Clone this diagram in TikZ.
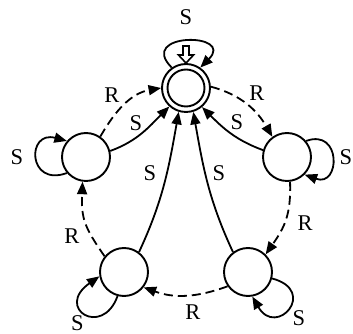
\documentclass[tikz,border=0pt]{standalone}
\usepackage{fontspec}
\setmainfont{Liberation Serif}
\usetikzlibrary{arrows.meta}
\begin{document}
\begin{tikzpicture}[x=1pt,y=1pt,
  st/.style={circle,draw,line width=1.9pt,minimum size=48pt,inner sep=0pt},
  lab/.style={font=\fontsize{22.5}{26}\selectfont,inner sep=0pt},
  tr/.style={line width=1.8pt,-{Triangle[length=12.5pt,width=10pt]}},
  dsh/.style={tr,dash pattern=on 9pt off 5pt},
  initarr/.style={line width=1.6pt,fill=white,line join=miter}
]
\useasboundingbox (0,0) rectangle (353,334);
% states
\node[st] (T) at (186,246) {};
\node[circle,draw,line width=1.9pt,minimum size=37pt,inner sep=0pt] (Ti) at (T.center) {};
\node[st] (L) at (86,177) {};
\node[st] (Rt) at (287,177) {};
\node[st] (BL) at (124,62) {};
\node[st] (BR) at (248,62) {};
% loops
\draw[tr] (T.125) to[out=135,in=45,distance=50] (T.55);
\draw[initarr] (T.north) -- ++(-7.5,8) -- ++(4.5,0) -- ++(0,9) -- ++(6,0) -- ++(0,-9) -- ++(4.5,0) -- cycle;
\draw[tr] (L.220) to[out=200,in=165,distance=42] (L.140);
\draw[tr] (Rt.40) to[out=20,in=-20,distance=38] (Rt.315);
\draw[tr] (BL.255) to[out=250,in=215,out distance=45,in distance=55] (BL.190);
\draw[tr] (BR.345) to[out=345,in=300,distance=48] (BR.280);
% transitions
\draw[dsh] (L.55) to[out=60,in=190] (T.180);
\draw[tr] (L.14) to[out=20,in=225] (T.228);
\draw[dsh] (T.3) to[out=-15,in=120] (Rt.126);
\draw[tr] (Rt.164) to[out=160,in=-45] (T.-50);
\draw[dsh] (Rt.277) to[out=272,in=55,looseness=1.1] (BR.45);
\draw[dsh] (BR.215) to[out=200,in=-20] (BL.322);
\draw[dsh] (BL.141) to[out=125,in=268,looseness=1.2] (L.262);
\draw[tr] (BL.53) to[out=65,in=260] (T.253);
\draw[tr] (BR.127) to[out=115,in=280] (T.287);
% labels
\node[lab] (sT) at (186,316.5) {S};
\node[lab] (sL) at (17,177) {S};
\node[lab] (sR) at (346,176.5) {S};
\node[lab] (sBL) at (77.5,11) {S};
\node[lab] (sBR) at (299,16) {S};
\node[lab] (r1) at (112,239) {R};
\node[lab] (s1) at (136,211) {S};
\node[lab] (r2) at (257,241) {R};
\node[lab] (s2) at (237,212) {S};
\node[lab] (r3) at (305,111) {R};
\node[lab] (r4) at (193,22) {R};
\node[lab] (r5) at (72,98) {R};
\node[lab] (s3) at (150,161) {S};
\node[lab] (s4) at (219,161) {S};
\end{tikzpicture}
\end{document}
